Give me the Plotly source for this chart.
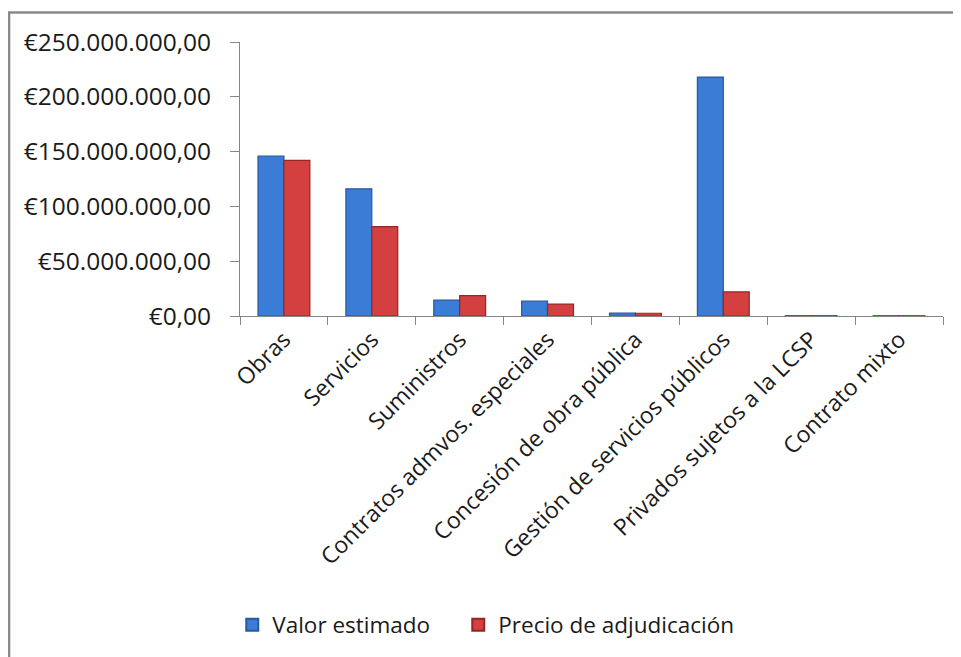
import plotly.graph_objects as go

categories = ["Obras", "Servicios", "Suministros", "Contratos admvos. especiales",
              "Concesión de obra pública", "Gestión de servicios públicos",
              "Privados sujetos a la LCSP", "Contrato mixto"]
valor_estimado = [146000000, 116000000, 14500000, 13500000, 2600000, 218000000, 300000, 250000]
precio_adjudicacion = [142000000, 81500000, 18500000, 10800000, 2500000, 22000000, 250000, 200000]
tick_vals = [0, 50000000, 100000000, 150000000, 200000000, 250000000]
tick_text = ["€0,00", "€50.000.000,00", "€100.000.000,00", "€150.000.000,00",
             "€200.000.000,00", "€250.000.000,00"]

FONT = "Open Sans"

fig = go.Figure()
fig.add_trace(go.Bar(
    x=categories, y=valor_estimado, name="Valor estimado",
    marker=dict(color="#3a7cd6", line=dict(color="#285a9c", width=1.2)),
    legendwidth=181,
))
fig.add_trace(go.Bar(
    x=categories, y=precio_adjudicacion, name="Precio de adjudicación",
    marker=dict(color="#d43f3f", line=dict(color="#932626", width=1.2)),
    legendwidth=280,
))

fig.update_layout(
    width=961, height=657,
    margin=dict(l=232, r=26, t=34, b=349, autoexpand=False),
    paper_bgcolor="white", plot_bgcolor="white",
    barmode="group", bargap=0.41, bargroupgap=0,
    font=dict(family=FONT, size=22, color="#1a1a1a"),
    showlegend=True,
    legend=dict(orientation="h", x=-0.011, y=-1.128, xanchor="left", yanchor="middle",
                font=dict(family=FONT, size=22.5, color="#1a1a1a"),
                itemsizing="constant", traceorder="normal"),
    xaxis=dict(
        showline=True, linecolor="#868686", linewidth=1,
        ticks="outside", ticklen=8, tickcolor="#868686",
        tickangle=-45, showgrid=False,
        tickson="boundaries",
        tickfont=dict(family=FONT, size=23, color="#1a1a1a"),
    ),
    yaxis=dict(
        range=[0, 250000000],
        tickvals=tick_vals, ticktext=tick_text,
        showline=True, linecolor="#868686", linewidth=1,
        ticks="outside", ticklen=9, tickcolor="#868686",
        showgrid=False, zeroline=False,
        ticklabelstandoff=14,
        tickfont=dict(family=FONT, size=24.5, color="#1a1a1a"),
    ),
    shapes=[
        dict(type="rect", xref="paper", yref="paper",
             x0=-0.3285, x1=1.2, y0=-1.6, y1=1.1077,
             line=dict(color="#8a8a8a", width=2.5), fillcolor="rgba(0,0,0,0)", layer="below"),
    ],
)

fig.write_html("out.html")
